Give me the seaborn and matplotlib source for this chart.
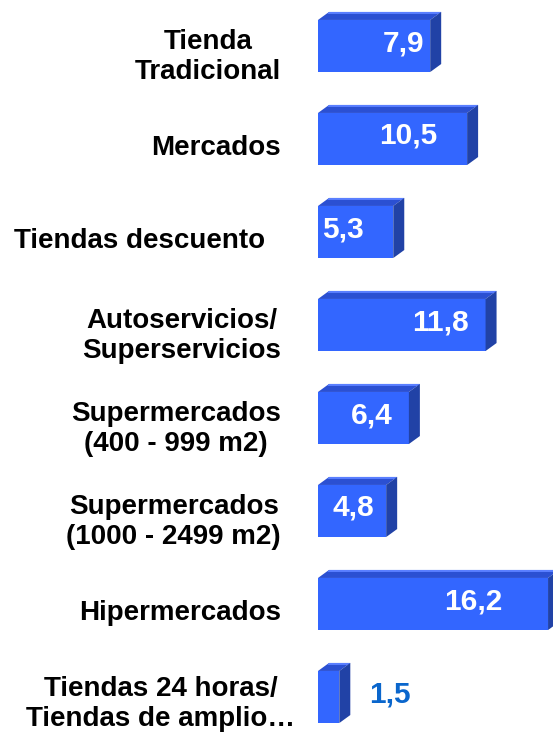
import matplotlib
matplotlib.use("Agg")
import matplotlib.pyplot as plt
import matplotlib.transforms as mtransforms
from matplotlib.patches import Polygon
import seaborn as sns
import pandas as pd

categories = [
    "Tienda\nTradicional",
    "Mercados",
    "Tiendas descuento  ",
    "Autoservicios/\nSuperservicios",
    "Supermercados\n(400 - 999 m2)",
    "Supermercados\n(1000 - 2499 m2)",
    "Hipermercados",
    "Tiendas 24 horas/\nTiendas de amplio…",
]
values = [7.9, 10.5, 5.3, 11.8, 6.4, 4.8, 16.2, 1.5]
value_labels = ["7,9", "10,5", "5,3", "11,8", "6,4", "4,8", "16,2", "1,5"]

# label placement (pixel offset of label centre from bar end) - styling only
label_px_offset = [-27, -59, -50, -45, -37, -33, -75, 51]
# extra nudges of category labels in pixels (x right, y down) - styling only
cat_px_nudge_x = [0, 0, 0, 0, 0, 0, 0, 14]
cat_px_nudge_y = [6, 6, 6, 6, 6, 6, 6, 2]

sns.set_theme(style="white")
plt.rcParams['font.family'] = ['Liberation Sans', 'DejaVu Sans']

W, H, DPI = 553, 735, 100
fig = plt.figure(figsize=(W / DPI, H / DPI), dpi=DPI)
ax_left = 318
ax = fig.add_axes([ax_left / W, 0, (W - ax_left) / W, 1])

df = pd.DataFrame({"cat": categories, "val": values})
FRONT = "#3366ff"
sns.barplot(data=df, x="val", y="cat", orient="h", color=FRONT, saturation=1,
            width=0.56, ax=ax, linewidth=0)

px_per_unit = 14.2
xmax = (W - ax_left) / px_per_unit
ax.set_xlim(0, xmax)
row_px = 93.0
first_px = 46.0
ax.set_ylim((H - first_px) / row_px, -first_px / row_px)

dx = 11 / px_per_unit
dy = 8 / row_px

for p in ax.patches[:len(values)]:
    x0, y0 = p.get_x(), p.get_y()
    w, h = p.get_width(), p.get_height()
    yt = y0          # top edge (inverted axis)
    yb = y0 + h
    top = Polygon([(x0, yt), (x0 + w, yt), (x0 + w + dx, yt - dy), (x0 + dx, yt - dy)],
                  closed=True, facecolor="#2b50d2", edgecolor="none", clip_on=False, zorder=1)
    topedge = Polygon([(x0 + dx, yt - dy), (x0 + w + dx, yt - dy), (x0 + w + dx * 0.85, yt - dy * 0.75), (x0 + dx * 0.85, yt - dy * 0.75)],
                      closed=True, facecolor="#5a7fff", edgecolor="none", clip_on=False, zorder=1)
    side = Polygon([(x0 + w, yt), (x0 + w, yb), (x0 + w + dx, yb - dy), (x0 + w + dx, yt - dy)],
                   closed=True, facecolor="#2142a6", edgecolor="none", clip_on=False, zorder=1)
    ax.add_patch(top)
    ax.add_patch(topedge)
    ax.add_patch(side)

for i, (v, lab) in enumerate(zip(values, value_labels)):
    off = label_px_offset[i]
    xc = v + off / px_per_unit
    color = "white" if off < 0 else "#0a66cc"
    ax.text(xc, i - 3 / row_px, lab, ha="center", va="center", fontsize=21.5,
            fontweight="bold", color=color, zorder=5)

for s in ax.spines.values():
    s.set_visible(False)
ax.set_xlabel("")
ax.set_ylabel("")
ax.set_xticks([])
ax.tick_params(axis="y", length=0, pad=37 * 72 / DPI)
ax.set_yticks(range(len(categories)))
ax.set_yticklabels(categories, fontsize=20, fontweight="bold", color="black")
for t, nx, ny in zip(ax.get_yticklabels(), cat_px_nudge_x, cat_px_nudge_y):
    shift = mtransforms.ScaledTranslation(nx / DPI, -ny / DPI, fig.dpi_scale_trans)
    t.set_multialignment("center")
    t.set_linespacing(1.22)
    t.set_transform(t.get_transform() + shift)

fig.savefig("out.png", dpi=DPI)
